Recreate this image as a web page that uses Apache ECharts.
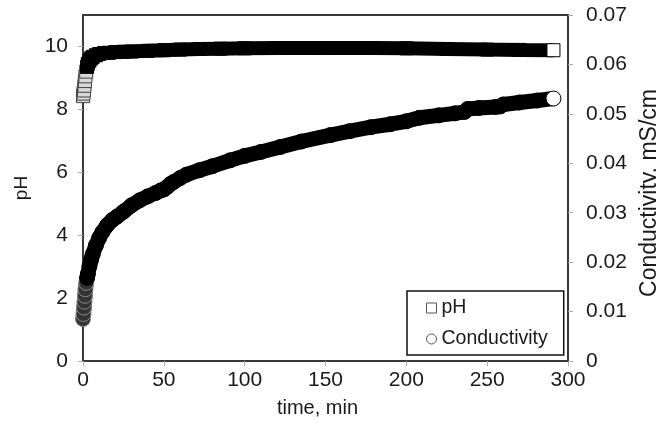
<!DOCTYPE html>
<html>
<head>
<meta charset="utf-8">
<script src="https://cdn.jsdelivr.net/npm/echarts@6/dist/echarts.min.js"></script>
<style>
html,body{margin:0;padding:0;background:#fff;overflow:hidden;}
#chart{width:656px;height:425px;}
</style>
</head>
<body>
<div id="chart"></div>
<script>
// pH series (time in min, pH)
const phTime = [0, 0.3, 0.6, 0.9, 1.2, 1.5, 2, 2.5, 3, 4, 5, 6, 8, 10, 13, 16, 20, 25, 30, 40, 50, 60, 72, 85, 100, 120, 150, 180, 200, 225, 250, 270, 291];
const phValues = [8.42, 8.5, 8.6, 8.75, 8.9, 9.05, 9.2, 9.35, 9.45, 9.55, 9.62, 9.67, 9.72, 9.76, 9.79, 9.8, 9.82, 9.83, 9.84, 9.86, 9.88, 9.9, 9.92, 9.93, 9.94, 9.95, 9.95, 9.95, 9.94, 9.92, 9.9, 9.89, 9.88];

// Conductivity series (time in min, mS/cm)
const condTime = [0, 0.3, 0.6, 0.9, 1.2, 1.5, 2, 2.5, 3, 4, 5, 6, 8, 10, 12, 15, 18, 21, 25, 30, 35, 40, 45, 48, 50, 52, 54, 56, 60, 64, 72, 80, 91, 100, 110, 122, 135, 153, 165, 178, 190, 200, 208, 220, 230, 236, 238, 245, 255, 258, 260, 270, 281, 291];
const condValues = [0.0085, 0.0095, 0.0108, 0.012, 0.0132, 0.0145, 0.0158, 0.0168, 0.0176, 0.0192, 0.0205, 0.0216, 0.0234, 0.0249, 0.0261, 0.0275, 0.0285, 0.0292, 0.0302, 0.0315, 0.0325, 0.0333, 0.034, 0.0345, 0.0347, 0.0352, 0.0358, 0.0362, 0.037, 0.0377, 0.0386, 0.0394, 0.0406, 0.0415, 0.0423, 0.0433, 0.0444, 0.0457, 0.0465, 0.0473, 0.0479, 0.0485, 0.0492, 0.0497, 0.0501, 0.0504, 0.051, 0.0512, 0.0514, 0.0515, 0.0519, 0.0523, 0.0527, 0.0531];

const xTicks = {min: 0, max: 300, interval: 50};
const phTicks = {min: 0, max: 11, interval: 2};
const condTicks = {min: 0, max: 0.07, interval: 0.01};

const FONT = 'Liberation Sans';
const TXT = '#1a1a1a';

function buildData(times, values, earlyLimit, earlyStyle) {
  const last = times.length - 1;
  return times.map((t, i) => {
    let style;
    if (i === last) style = {color: '#fff', borderColor: '#000', borderWidth: 1};
    else if (t < earlyLimit) style = earlyStyle;
    else style = {color: '#000', borderColor: '#000', borderWidth: 1};
    return {value: [t, values[i]], itemStyle: style};
  });
}

const chart = echarts.init(document.getElementById('chart'), null, {renderer: 'canvas'});
const axisLabelStyle = {color: TXT, fontFamily: FONT, fontSize: 21};
chart.setOption({
  animation: false,
  backgroundColor: '#fff',
  grid: {left: 83, right: 88, top: 15, bottom: 64, containLabel: false, outerBoundsMode: 'none',
         show: true, borderColor: '#3a3a3a', borderWidth: 2, backgroundColor: 'transparent'},
  legend: {
    orient: 'vertical', left: 407, top: 291,
    padding: [7, 16, 6, 19], itemGap: 11,
    itemWidth: 10, itemHeight: 10,
    borderColor: '#111', borderWidth: 1.5, backgroundColor: '#fff',
    textStyle: {color: TXT, fontFamily: FONT, fontSize: 19.5, lineHeight: 20},
    data: [
      {name: 'pH', icon: 'rect', itemStyle: {color: '#fff', borderColor: '#555', borderWidth: 1}},
      {name: 'Conductivity', icon: 'circle', itemStyle: {color: '#fff', borderColor: '#555', borderWidth: 1}}
    ]
  },
  xAxis: {
    type: 'value', min: xTicks.min, max: xTicks.max, interval: xTicks.interval,
    name: 'time, min', nameLocation: 'middle', nameGap: 37,
    nameTextStyle: {color: TXT, fontFamily: FONT, fontSize: 20, padding: [0, 16, 0, 0]},
    axisLine: {show: true, lineStyle: {color: '#3a3a3a', width: 2}},
    axisTick: {show: true, inside: false, length: 5, lineStyle: {color: '#aaa'}},
    axisLabel: Object.assign({margin: 9}, axisLabelStyle),
    splitLine: {show: false}
  },
  yAxis: [
    {
      type: 'value', min: phTicks.min, max: phTicks.max, interval: phTicks.interval,
      name: 'pH', nameLocation: 'middle', nameGap: 52,
      nameTextStyle: {color: TXT, fontFamily: FONT, fontSize: 19},
      axisLine: {show: true, lineStyle: {color: '#3a3a3a', width: 2}},
      axisTick: {show: true, length: 5, lineStyle: {color: '#aaa'}},
      axisLabel: Object.assign({margin: 15, showMaxLabel: false}, axisLabelStyle),
      splitLine: {show: false}
    },
    {
      type: 'value', min: condTicks.min, max: condTicks.max, interval: condTicks.interval,
      position: 'right',
      name: 'Conductivity, mS/cm', nameLocation: 'middle', nameGap: 70, nameMoveOverlap: false,
      nameTextStyle: {color: TXT, fontFamily: FONT, fontSize: 23, padding: [0, 10, 0, 0]},
      axisLine: {show: true, lineStyle: {color: '#3a3a3a', width: 2}},
      axisTick: {show: true, length: 5, lineStyle: {color: '#aaa'}},
      axisLabel: Object.assign({margin: 18, formatter: v => v === 0 ? '0' : v.toFixed(2)}, axisLabelStyle),
      splitLine: {show: false}
    }
  ],
  series: [
    {
      name: 'pH', type: 'line', yAxisIndex: 0,
      symbol: 'rect', symbolSize: 13, showSymbol: true, showAllSymbol: true,
      lineStyle: {color: '#000', width: 14},
      itemStyle: {color: '#000'},
      z: 3,
      data: buildData(phTime, phValues, 2.2, {color: '#d8d8d8', borderColor: '#444', borderWidth: 1})
    },
    {
      name: 'Conductivity', type: 'line', yAxisIndex: 1,
      symbol: 'circle', symbolSize: 15, showSymbol: true, showAllSymbol: true,
      lineStyle: {color: '#000', width: 15, cap: 'round', join: 'round'},
      itemStyle: {color: '#000'},
      z: 3,
      data: buildData(condTime, condValues, 2.2, {color: '#333', borderColor: '#888', borderWidth: 1})
    }
  ]
});
</script>
</body>
</html>
